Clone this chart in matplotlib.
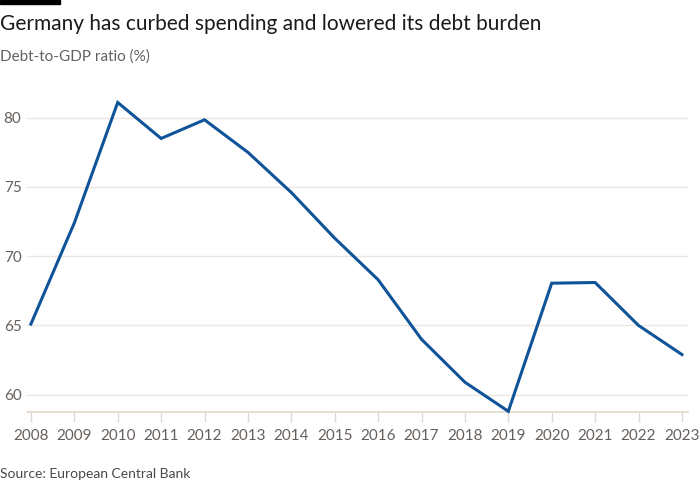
import matplotlib.pyplot as plt

years = list(range(2008, 2024))
debt_ratio = [65.1, 72.4, 81.1, 78.5, 79.85, 77.5, 74.6, 71.3, 68.3,
              64.0, 60.9, 58.8, 68.05, 68.1, 65.0, 62.9]
yticks = [60, 65, 70, 75, 80]

plt.rcParams['font.family'] = ['Lato', 'DejaVu Sans']

fig = plt.figure(figsize=(7, 5), dpi=100)
fig.patch.set_facecolor('white')
ax = fig.add_axes([27 / 700, 1 - 412 / 500, 661 / 700, (412 - 90) / 500])

ax.plot(years, debt_ratio, color='#0f5499', linewidth=2.2, solid_joinstyle='miter',
        clip_on=False, zorder=3)

ax.set_xlim(2007.91, 2023.14)
ax.set_ylim(58.75, 82)
ax.set_yticks(yticks)
ax.set_xticks(years)
ax.set_xticklabels([str(y) for y in years])

for v in yticks:
    ax.axhline(v, color='#ece6e0', linewidth=1, zorder=1)

for s in ['top', 'right', 'left']:
    ax.spines[s].set_visible(False)
ax.spines['bottom'].set_color('#e0d8d0')
ax.spines['bottom'].set_linewidth(1.2)

ax.tick_params(axis='y', length=0, pad=4, labelsize=11, labelcolor='#66605c')
ax.tick_params(axis='x', length=7, width=1, color='#e0d8d0', pad=5,
               labelsize=11, labelcolor='#66605c')

fig.text(0.0, 1 - 24 / 500, 'Germany has curbed spending and lowered its debt burden',
         fontsize=15, color='#1a1a1a', va='center', ha='left')
fig.text(0.0, 1 - 57 / 500, 'Debt-to-GDP ratio (%)', fontsize=11,
         color='#66605c', va='center', ha='left')
fig.text(0.0, 1 - 474 / 500, 'Source: European Central Bank', fontsize=10,
         color='#4d4845', va='center', ha='left')

# black bar at top left
fig.add_artist(plt.Rectangle((0, 1 - 4 / 500), 60 / 700, 4 / 500,
                             transform=fig.transFigure, color='black'))

fig.savefig('out.png', dpi=100, facecolor='white')
